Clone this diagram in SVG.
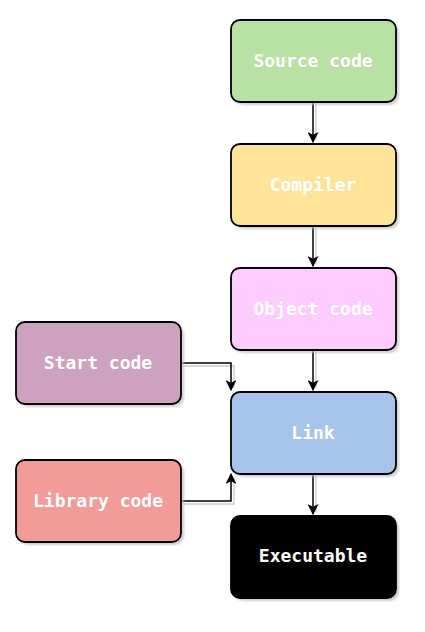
<svg xmlns="http://www.w3.org/2000/svg" width="425" height="632" viewBox="0 0 425 632">
<style>
.box{stroke:#000;stroke-width:1.8}
.sh{fill:#bbb;opacity:0.7}
.lbl{font-family:"DejaVu Sans Mono",monospace;font-weight:bold;font-size:18px;fill:#fff;text-anchor:middle;dominant-baseline:central}
.edge{fill:none;stroke:#000;stroke-width:1.5}
.esh{fill:none;stroke:#ccc;stroke-width:1.3}
</style>
<defs>
<marker id="arr" viewBox="0 0 10 10" refX="9" refY="5" markerWidth="11" markerHeight="11" orient="auto" markerUnits="userSpaceOnUse"><path d="M0,0 L10,5 L0,10 L2.5,5 Z" fill="#000"/></marker>
<filter id="blur"><feGaussianBlur stdDeviation="1.2"/></filter>
</defs>
<g id="connectors">
<path class="esh" d="M316,104 V140 M316,228 V264 M316,352 V388 M316,476 V512 M183,366 H234 V388 M183,504 H234 V478"/>
<path class="edge" d="M313,102 V142" marker-end="url(#arr)"/>
<path class="edge" d="M313,226 V266" marker-end="url(#arr)"/>
<path class="edge" d="M313,350 V390" marker-end="url(#arr)"/>
<path class="edge" d="M313,474 V514" marker-end="url(#arr)"/>
<path class="edge" d="M181,363 H231 V390" marker-end="url(#arr)"/>
<path class="edge" d="M181,501 H231 V474" marker-end="url(#arr)"/>
</g>
<g id="source">
<rect class="sh" x="234" y="23" width="165" height="82" rx="9" filter="url(#blur)"/>
<rect class="box" x="231" y="20" width="165" height="82" rx="9" fill="#b9e0a5"/>
<text class="lbl" x="313" y="60">Source code</text>
</g>
<g id="compiler">
<rect class="sh" x="234" y="147" width="165" height="82" rx="9" filter="url(#blur)"/>
<rect class="box" x="231" y="144" width="165" height="82" rx="9" fill="#ffe599"/>
<text class="lbl" x="313" y="184">Compiler</text>
</g>
<g id="object">
<rect class="sh" x="234" y="271" width="165" height="82" rx="9" filter="url(#blur)"/>
<rect class="box" x="231" y="268" width="165" height="82" rx="9" fill="#ffccff"/>
<text class="lbl" x="313" y="308">Object code</text>
</g>
<g id="link">
<rect class="sh" x="234" y="395" width="165" height="82" rx="9" filter="url(#blur)"/>
<rect class="box" x="231" y="392" width="165" height="82" rx="9" fill="#a9c4eb"/>
<text class="lbl" x="313" y="432">Link</text>
</g>
<g id="executable">
<rect class="sh" x="234" y="519" width="165" height="82" rx="9" filter="url(#blur)"/>
<rect class="box" x="231" y="516" width="165" height="82" rx="9" fill="#000"/>
<text class="lbl" x="313" y="555">Executable</text>
</g>
<g id="start">
<rect class="sh" x="19" y="325" width="165" height="82" rx="9" filter="url(#blur)"/>
<rect class="box" x="16" y="322" width="165" height="82" rx="9" fill="#cda2be"/>
<text class="lbl" x="98" y="362">Start code</text>
</g>
<g id="library">
<rect class="sh" x="19" y="463" width="165" height="82" rx="9" filter="url(#blur)"/>
<rect class="box" x="16" y="460" width="165" height="82" rx="9" fill="#f19c99"/>
<text class="lbl" x="98" y="500">Library code</text>
</g>
</svg>
